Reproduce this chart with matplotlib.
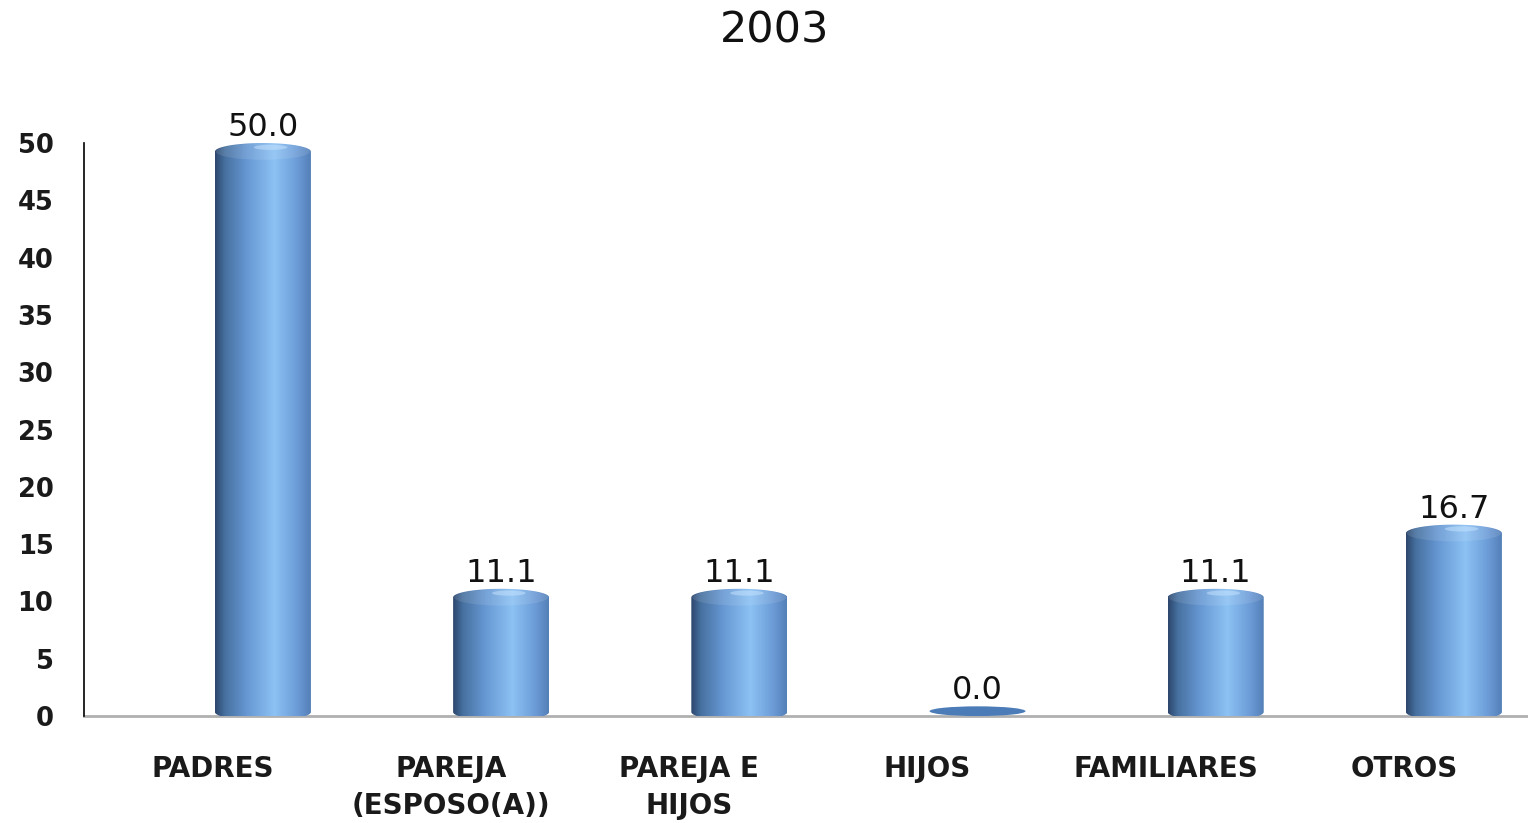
import numpy as np
import matplotlib
matplotlib.use("Agg")
import matplotlib.pyplot as plt
from matplotlib.patches import Polygon, Ellipse
from matplotlib.colors import LinearSegmentedColormap

# ---- data ----
title = "2003"
categories = ["PADRES", "PAREJA\n(ESPOSO(A))", "PAREJA E\nHIJOS", "HIJOS", "FAMILIARES", "OTROS"]
values = [50.0, 11.1, 11.1, 0.0, 11.1, 16.7]
yticks = [0, 5, 10, 15, 20, 25, 30, 35, 40, 45, 50]

plt.rcParams['font.family'] = ['DejaVu Sans']

fig = plt.figure(figsize=(15.28, 8.23), dpi=100)
ax = fig.add_axes([0.055, 0.130, 0.945, 0.6962])

bar_w = 0.403
cap_h = 1.5
label_shift = 0.21

grad_cmap = LinearSegmentedColormap.from_list(
    "cyl",
    [(0.0, "#2c466c"), (0.1, "#46709f"), (0.33, "#6697d2"),
     (0.62, "#8cc2f4"), (0.85, "#6d9dd8"), (1.0, "#5480b8")])
grad = np.linspace(0, 1, 256).reshape(1, -1)

x = np.arange(len(values))
for xi, v in zip(x, values):
    x0, x1 = xi - bar_w / 2, xi + bar_w / 2
    if v <= 0:
        ax.add_patch(Ellipse((xi, 0.42), bar_w, 0.85, facecolor="#4b7cb8",
                             edgecolor="none", zorder=3))
        top = 0.85
    else:
        t = np.linspace(0, np.pi, 60)
        yc_top = v - cap_h / 2
        yc_bot = 0.35
        top_arc = np.column_stack([xi + bar_w / 2 * np.cos(t), yc_top + cap_h / 2 * np.sin(t)])
        bot_arc = np.column_stack([xi - bar_w / 2 * np.cos(t), yc_bot - cap_h / 2 * np.sin(t)])
        verts = np.vstack([top_arc, bot_arc])
        poly = Polygon(verts, closed=True, facecolor="none", edgecolor="none")
        ax.add_patch(poly)
        im = ax.imshow(grad, cmap=grad_cmap, aspect="auto",
                       extent=[x0, x1, -1, v + 0.1], zorder=3, interpolation="bicubic")
        im.set_clip_path(poly)
        # top face highlight
        ax.add_patch(Ellipse((xi, yc_top), bar_w * 0.98, cap_h * 0.95,
                             facecolor="white", alpha=0.10, edgecolor="none", zorder=4))
        ax.add_patch(Ellipse((xi + bar_w * 0.08, v - cap_h * 0.25), bar_w * 0.35, cap_h * 0.3,
                             facecolor="#c8e4ff", alpha=0.5, edgecolor="none", zorder=4))
        top = v
    ax.annotate(f"{v:.1f}", xy=(xi, top), xytext=(0, 0), textcoords="offset points",
                ha="center", va="bottom", fontsize=23, color="#111111", zorder=5)

ax.set_xlim(-0.751, 5.311)
ax.set_ylim(0, 50)

ax.set_yticks(yticks)
ax.set_yticklabels([str(t) for t in yticks], fontsize=18.5, fontweight="bold", color="#1a1a1a")
ax.set_xticks(x - label_shift)
ax.set_xticklabels(categories, fontsize=20, fontweight="bold", color="#1a1a1a", linespacing=1.42)
ax.tick_params(axis="y", length=0, pad=22)
ax.tick_params(axis="x", length=0, pad=28)

for s in ["top", "right"]:
    ax.spines[s].set_visible(False)
ax.spines["left"].set_color("#000000")
ax.spines["left"].set_linewidth(1.2)
ax.spines["bottom"].set_color("#b0b0b0")
ax.spines["bottom"].set_linewidth(2)
ax.spines["bottom"].set_zorder(2)

fig.text(0.507, 0.989, title, ha="center", va="top", fontsize=31, color="#111111")

fig.savefig("out.png", dpi=100)
